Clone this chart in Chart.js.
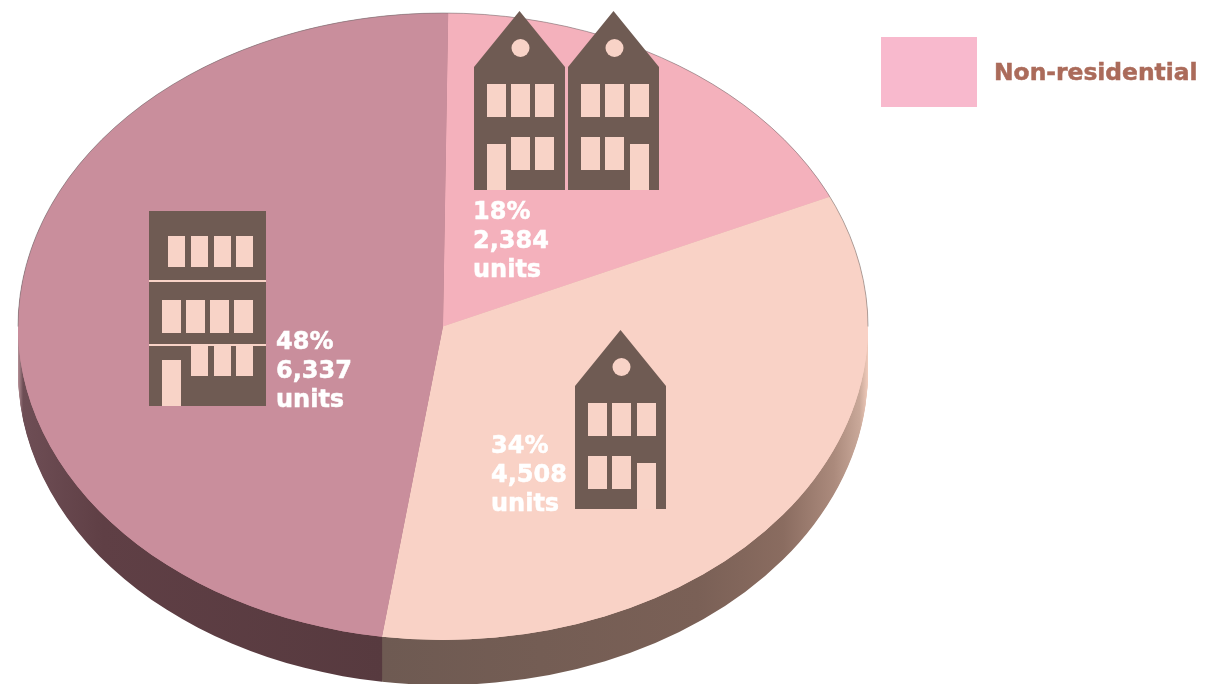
<!DOCTYPE html>
<html>
<head>
<meta charset="utf-8">
<title>Units</title>
<style>
  html, body { margin: 0; background: #fff; overflow: hidden; }
  canvas { display: block; }
</style>
<script src="https://cdn.jsdelivr.net/npm/chart.js@4/dist/chart.umd.min.js"></script>
</head>
<body>
<div style="width:1232px;height:684px"><canvas id="pie" width="1232" height="684"></canvas></div>
<script>
var categories = ['Non-residential', '', ''];
var units = [2384, 4508, 6337];
var sliceColors = ['#f4b1bc', '#f9d2c6', '#c98e9c'];
var unitLabel = 'units';

var BROWN = '#6f5b53';
var WINDOW = '#f8d3c7';
var TEXT_FONT = 'bold 24px "DejaVu Sans"';

// the flat pie is squashed into the tilted ellipse of the picture
var ELLIPSE = { x: 443, y: 326.5, rx: 425, ry: 313.5 };
var DEPTH = 45;

function applyTilt(ctx, arc) {
  ctx.translate(ELLIPSE.x, ELLIPSE.y);
  ctx.scale(ELLIPSE.rx / arc.outerRadius, ELLIPSE.ry / arc.outerRadius);
  ctx.translate(-arc.x, -arc.y);
}

function rimGradient(ctx, arc, stops) {
  var g = ctx.createLinearGradient(arc.x - arc.outerRadius, 0, arc.x + arc.outerRadius, 0);
  stops.forEach(function(s) { g.addColorStop(s[0], s[1]); });
  return g;
}

function drawGhost(ctx, arc, color) {
  var ghost = Object.create(arc);
  ghost.options = Object.assign({}, arc.options, { backgroundColor: color });
  ghost.draw(ctx);
}

var tiltPlugin = {
  id: 'tilt',
  beforeDatasetsDraw: function(chart) {
    var ctx = chart.ctx;
    var arcs = chart.getDatasetMeta(0).data;
    var rimColors = [
      '#8d6f63',
      rimGradient(ctx, arcs[0], [[0.43, '#6e5a52'], [0.8, '#7a6056'], [0.9, '#8a6c60'], [0.96, '#ab8a7c'], [0.99, '#c9a899'], [1, '#f0cbbb']]),
      rimGradient(ctx, arcs[0], [[0, '#b48f96'], [0.006, '#6e4e55'], [0.1, '#5f3f45'], [0.43, '#573a3f']])
    ];
    // side of the pie: same arcs, stacked downwards
    for (var d = DEPTH; d > 0; d--) {
      ctx.save();
      ctx.translate(0, d);
      applyTilt(ctx, arcs[0]);
      arcs.forEach(function(arc, i) { drawGhost(ctx, arc, rimColors[i]); });
      ctx.restore();
    }
    ctx.save();
    applyTilt(ctx, arcs[0]);
    arcs.forEach(function(arc, i) { drawGhost(ctx, arc, sliceColors[i]); });
  },
  afterDatasetsDraw: function(chart) {
    var ctx = chart.ctx;
    var arc = chart.getDatasetMeta(0).data[0];
    ctx.beginPath();
    ctx.arc(arc.x, arc.y, arc.outerRadius, Math.PI, Math.PI * 2);
    ctx.strokeStyle = 'rgba(105,105,105,0.6)';
    ctx.lineWidth = 0.8;
    ctx.stroke();
    ctx.restore();
  }
};

function rect(ctx, x, y, w, h) {
  ctx.fillRect(x, y, w, h);
}

function drawHouse(ctx, left, top, doorLeft, thirdCol) {
  ctx.fillStyle = BROWN;
  ctx.beginPath();
  ctx.moveTo(left, top + 56);
  ctx.lineTo(left + 45.5, top);
  ctx.lineTo(left + 91, top + 56);
  ctx.lineTo(left + 91, top + 179);
  ctx.lineTo(left, top + 179);
  ctx.closePath();
  ctx.fill();

  ctx.fillStyle = WINDOW;
  ctx.beginPath();
  ctx.arc(left + 46.5, top + 37, 9, 0, Math.PI * 2);
  ctx.fill();

  [13, 37, thirdCol].forEach(function(x) { rect(ctx, left + x, top + 73, 19, 33); });
  if (doorLeft) {
    rect(ctx, left + 37, top + 126, 19, 33);
    rect(ctx, left + thirdCol, top + 126, 19, 33);
    rect(ctx, left + 13, top + 133, 19, 46);
  } else {
    rect(ctx, left + 13, top + 126, 19, 33);
    rect(ctx, left + 37, top + 126, 19, 33);
    rect(ctx, left + thirdCol, top + 133, 19, 46);
  }
}

function drawBlock(ctx) {
  ctx.fillStyle = BROWN;
  rect(ctx, 149, 211, 117, 195);
  ctx.fillStyle = WINDOW;
  rect(ctx, 149, 280, 117, 2);
  rect(ctx, 149, 344, 117, 2);
  [168, 191, 214, 236].forEach(function(x) { rect(ctx, x, 236, 17, 31); });
  [162, 186, 210, 234].forEach(function(x) { rect(ctx, x, 300, 19, 33); });
  [191, 214, 236].forEach(function(x) { rect(ctx, x, 345, 17, 31); });
  rect(ctx, 162, 360, 19, 46);
}

function heavyText(ctx, text, x, y) {
  ctx.fillText(text, x, y);
  ctx.strokeText(text, x, y);
}

function drawUnits(ctx, i, x, y) {
  var total = units.reduce(function(a, b) { return a + b; }, 0);
  ctx.fillStyle = '#fff';
  ctx.strokeStyle = '#fff';
  ctx.lineWidth = 0.5;
  ctx.font = TEXT_FONT;
  ctx.textAlign = 'left';
  ctx.textBaseline = 'alphabetic';
  heavyText(ctx, Math.round(units[i] / total * 100) + '%', x, y);
  heavyText(ctx, units[i].toLocaleString('en-US'), x, y + 29);
  heavyText(ctx, unitLabel, x, y + 58);
}

var decorPlugin = {
  id: 'decor',
  afterDraw: function(chart) {
    var ctx = chart.ctx;
    ctx.save();
    drawHouse(ctx, 474, 11, true, 61);
    drawHouse(ctx, 568, 11, false, 62);
    drawHouse(ctx, 575, 330, false, 62);
    drawBlock(ctx);

    drawUnits(ctx, 0, 473, 219);
    drawUnits(ctx, 1, 491, 453);
    drawUnits(ctx, 2, 276, 349);

    // legend, only the first entry is in the picture
    ctx.fillStyle = '#f8b9cd';
    rect(ctx, 881, 37, 96, 70);
    ctx.fillStyle = '#ab6b5a';
    ctx.strokeStyle = '#ab6b5a';
    ctx.font = 'bold 23.4px "DejaVu Sans"';
    heavyText(ctx, categories[0], 994, 80);
    ctx.restore();
  }
};

var chart = new Chart(document.getElementById('pie'), {
  type: 'pie',
  data: {
    labels: categories,
    datasets: [{
      data: units,
      backgroundColor: sliceColors,
      borderWidth: 0
    }]
  },
  options: {
    responsive: false,
    animation: false,
    rotation: 0.7,
    layout: { padding: 0 },
    plugins: {
      legend: { display: false },
      tooltip: { enabled: false }
    }
  },
  plugins: [tiltPlugin, decorPlugin]
});
</script>
</body>
</html>
